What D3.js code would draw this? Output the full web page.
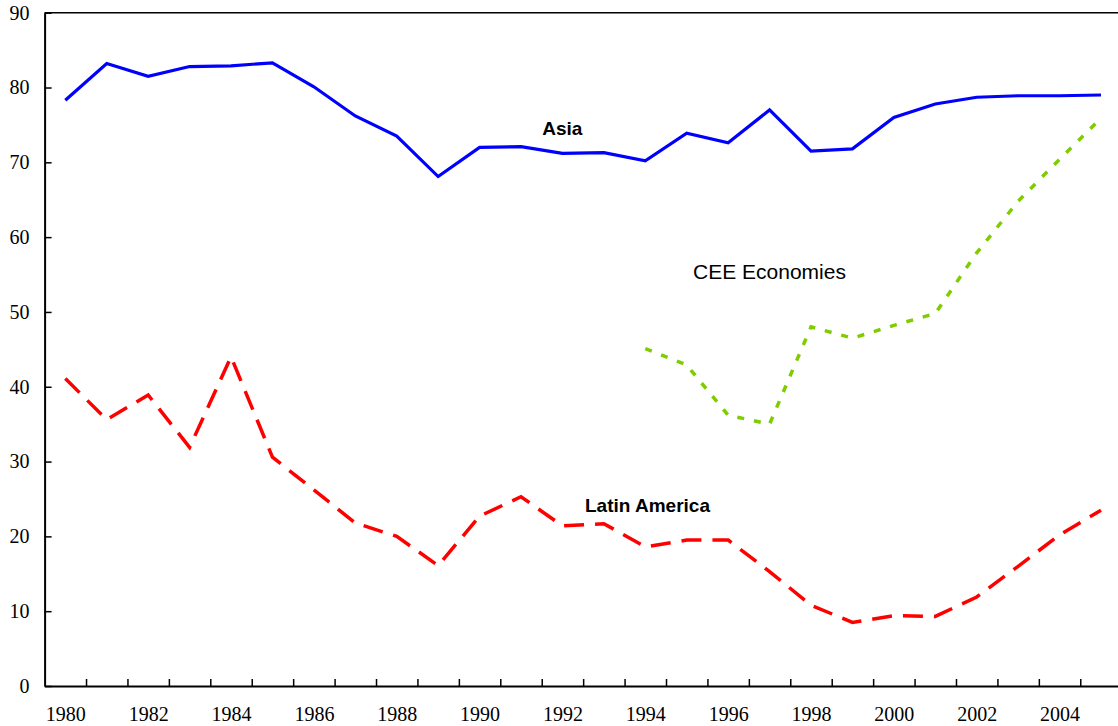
<!doctype html>
<html lang="en">
  <head>
    <meta charset="utf-8">
    <title>Asia, Latin America, CEE</title>
    <script src="https://d3js.org/d3.v7.min.js"></script>
    <style>
      body { margin: 0; background: #fff; }
      svg { display: block; }
    </style>
  </head>
  <body>
    <div id="chart"></div>
    <script>

      // data
      const years = d3.range(1980, 2006);
      const yearLabels = [1980, 1982, 1984, 1986, 1988, 1990, 1992, 1994, 1996, 1998, 2000, 2002, 2004];
      const yTicks = [0, 10, 20, 30, 40, 50, 60, 70, 80, 90];

      const asia = [78.3, 83.2, 81.5, 82.8, 82.9, 83.3, 80.1, 76.2, 73.5, 68.1, 72.0, 72.1, 71.2, 71.3,
                    70.2, 73.9, 72.6, 77.0, 71.5, 71.8, 76.0, 77.8, 78.7, 78.9, 78.9, 79.0];
      const latinAmerica = [41.1, 35.6, 38.9, 31.9, 44.0, 30.6, 26.2, 21.8, 20.0, 16.1, 22.7, 25.3, 21.4, 21.7,
                            18.6, 19.5, 19.5, 15.3, 10.8, 8.5, 9.4, 9.3, 11.9, 16.0, 20.2, 23.5];
      const ceeYears = [1994, 1995, 1996, 1997, 1998, 1999, 2000, 2001, 2002, 2003, 2004, 2005];
      const cee = [45.1, 42.9, 36.2, 35.0, 48.0, 46.5, 48.2, 49.8, 57.9, 64.8, 70.4, 75.9];

      const W = 1118, H = 726;
      // plot area (right edge runs past the window, as in the original)
      const plot = {left: 44.6, right: 1121.7, top: 12.7, bottom: 686};

      const svg = d3.select("#chart")
        .append("svg")
          .attr("width", W)
          .attr("height", H);

      // x: one band per year, points at band centres
      const x = d3.scaleLinear()
        .domain([1979.5, 2005.5])
        .range([plot.left, plot.right]);

      const y = d3.scaleLinear()
        .domain([0, 90])
        .range([plot.bottom, plot.top]);

      // top frame line
      svg.append("line")
        .attr("x1", plot.left).attr("x2", plot.right)
        .attr("y1", plot.top).attr("y2", plot.top)
        .attr("stroke", "#000")
        .attr("stroke-width", 1.5);

      // Y axis
      const yAxis = svg.append("g")
        .attr("transform", `translate(${plot.left},0)`)
        .call(d3.axisLeft(y).tickValues(yTicks).tickSize(-7).tickSizeOuter(0).tickPadding(15));
      yAxis.select(".domain").attr("stroke-width", 2);
      yAxis.selectAll(".tick line").attr("stroke-width", 1.5);
      yAxis.selectAll("text")
        .attr("font-family", "'Liberation Serif', 'Times New Roman', serif")
        .attr("font-size", "20px")
        .attr("fill", "#000");

      // X axis ticks between the years
      const xAxis = svg.append("g")
        .attr("transform", `translate(0,${plot.bottom})`)
        .call(d3.axisBottom(x)
          .tickValues(years.slice(0, -1).map(d => d + 0.5))
          .tickFormat("")
          .tickSize(-7)
          .tickSizeOuter(0));
      xAxis.select(".domain").attr("stroke-width", 2);
      xAxis.selectAll(".tick line").attr("stroke-width", 1.5);

      // X labels on even years
      const xLabels = svg.append("g")
        .attr("transform", `translate(0,${plot.bottom})`)
        .call(d3.axisBottom(x).tickValues(yearLabels).tickFormat(d3.format("d")).tickSize(0).tickPadding(21));
      xLabels.select(".domain").remove();
      xLabels.selectAll("text")
        .attr("font-family", "'Liberation Serif', 'Times New Roman', serif")
        .attr("font-size", "20px")
        .attr("fill", "#000");

      const line = d3.line()
        .x(d => x(d[0]))
        .y(d => y(d[1]));

      svg.append("path")
        .datum(years.map((yr, i) => [yr, asia[i]]))
        .attr("fill", "none")
        .attr("stroke", "#0000ff")
        .attr("stroke-width", 3.2)
        .attr("d", line);

      svg.append("path")
        .datum(years.map((yr, i) => [yr, latinAmerica[i]]))
        .attr("fill", "none")
        .attr("stroke", "#ff0000")
        .attr("stroke-width", 3.5)
        .attr("stroke-dasharray", "20,11")
        .attr("d", line);

      svg.append("path")
        .datum(ceeYears.map((yr, i) => [yr, cee[i]]))
        .attr("fill", "none")
        .attr("stroke", "#80cc00")
        .attr("stroke-width", 3.5)
        .attr("stroke-dasharray", "7,10")
        .attr("d", line);

      // series labels
      svg.append("text")
        .attr("x", 562.3).attr("y", 135)
        .attr("text-anchor", "middle")
        .attr("font-family", "'Liberation Sans', Arial, sans-serif")
        .attr("font-weight", "bold")
        .attr("font-size", "19px")
        .text("Asia");

      svg.append("text")
        .attr("x", 647.5).attr("y", 511.7)
        .attr("text-anchor", "middle")
        .attr("font-family", "'Liberation Sans', Arial, sans-serif")
        .attr("font-weight", "bold")
        .attr("font-size", "19px")
        .text("Latin America");

      svg.append("text")
        .attr("x", 769.5).attr("y", 279.3)
        .attr("text-anchor", "middle")
        .attr("font-family", "'Liberation Sans', Arial, sans-serif")
        .attr("font-size", "21px")
        .text("CEE Economies");

    </script>
  </body>
</html>
